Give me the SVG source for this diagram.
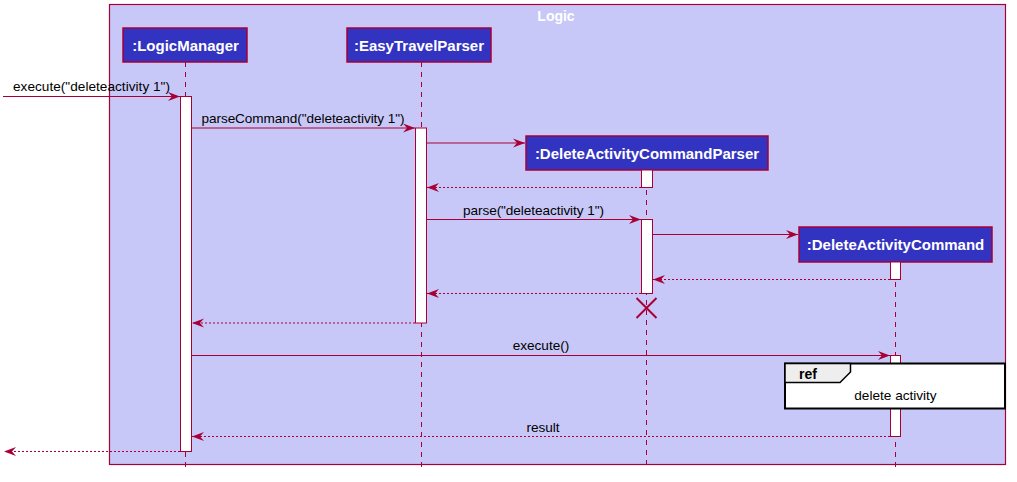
<svg xmlns="http://www.w3.org/2000/svg" width="1017" height="482" viewBox="0 0 1017 482">
<style>
.life{stroke:#A80036;stroke-width:1;stroke-dasharray:5,5;fill:none}
.part rect{fill:#3333C1;stroke:#A80036;stroke-width:1.5}
.part text{fill:#FFFFFF;font-family:"Liberation Sans",Arial,sans-serif;font-weight:bold;font-size:15px;text-anchor:middle}
.act{fill:#FFFFFF;stroke:#A80036;stroke-width:1}
.msg{stroke:#A80036;stroke-width:1;fill:none}
.ret{stroke:#A80036;stroke-width:1;fill:none;stroke-dasharray:2,2}
.lbl{font-family:"Liberation Sans",Arial,sans-serif;font-size:13.6px;fill:#000000}
</style>
<defs>
<marker id="ah" markerWidth="13" markerHeight="10" refX="12" refY="5" orient="auto" markerUnits="userSpaceOnUse">
<polygon points="12,5 0,0.5 4,5 0,9.5" fill="#A80036"/>
</marker>
</defs>
<g id="frame-logic">
<rect x="109.5" y="4.5" width="896" height="460" fill="#C8C8F8" stroke="#A80036" stroke-width="1.2"/>
<text x="556" y="21" text-anchor="middle" font-family="Liberation Sans,Arial,sans-serif" font-weight="bold" font-size="14" fill="#FFFFFF">Logic</text>
</g>
<g id="lifelines">
<line class="life" x1="185.5" y1="62" x2="185.5" y2="467"/>
<line class="life" x1="421.5" y1="62" x2="421.5" y2="467"/>
<line class="life" x1="646.5" y1="170" x2="646.5" y2="467"/>
<line class="life" x1="895.5" y1="262" x2="895.5" y2="467"/>
</g>
<g id="LogicManager" class="part">
<rect x="123" y="28" width="124" height="34"/>
<text x="185.5" y="50.5">:LogicManager</text>
</g>
<g id="EasyTravelParser" class="part">
<rect x="347" y="28" width="144" height="34"/>
<text x="419" y="50.5">:EasyTravelParser</text>
</g>
<g id="DeleteActivityCommandParser" class="part">
<rect x="526" y="136" width="242" height="34"/>
<text x="647" y="158.5">:DeleteActivityCommandParser</text>
</g>
<g id="DeleteActivityCommand" class="part">
<rect x="799" y="227" width="193" height="35"/>
<text x="895.5" y="249.5">:DeleteActivityCommand</text>
</g>
<g id="activations">
<rect class="act" x="180.5" y="96.5" width="11" height="355"/>
<rect class="act" x="415.5" y="128" width="11" height="195"/>
<rect class="act" x="641.5" y="170" width="11" height="17.5"/>
<rect class="act" x="641.5" y="219.5" width="11" height="74"/>
<rect class="act" x="890.5" y="262" width="10" height="17.5"/>
<rect class="act" x="890.5" y="355.5" width="10" height="81"/>
</g>
<g id="connectors">
<line class="msg" x1="3" y1="96.5" x2="180" y2="96.5" marker-end="url(#ah)"/>
<text class="lbl" x="13" y="91" textLength="157" lengthAdjust="spacing">execute("deleteactivity 1")</text>
<line class="msg" x1="191.5" y1="128" x2="415" y2="128" marker-end="url(#ah)"/>
<text class="lbl" x="201.5" y="123" textLength="203" lengthAdjust="spacing">parseCommand("deleteactivity 1")</text>
<line class="msg" x1="426.5" y1="143" x2="525" y2="143" marker-end="url(#ah)"/>
<line class="ret" x1="641" y1="187.5" x2="427" y2="187.5" marker-end="url(#ah)"/>
<line class="msg" x1="426.5" y1="219.5" x2="641" y2="219.5" marker-end="url(#ah)"/>
<text class="lbl" x="463" y="214.5" textLength="141" lengthAdjust="spacing">parse("deleteactivity 1")</text>
<line class="msg" x1="652.5" y1="234.5" x2="798" y2="234.5" marker-end="url(#ah)"/>
<line class="ret" x1="890" y1="279.5" x2="653" y2="279.5" marker-end="url(#ah)"/>
<line class="ret" x1="641" y1="293.5" x2="427" y2="293.5" marker-end="url(#ah)"/>
<line class="ret" x1="415" y1="323" x2="192" y2="323" marker-end="url(#ah)"/>
<line class="msg" x1="191.5" y1="355.5" x2="890" y2="355.5" marker-end="url(#ah)"/>
<text class="lbl" x="541" y="350" text-anchor="middle">execute()</text>
<line class="ret" x1="890" y1="436.5" x2="192" y2="436.5" marker-end="url(#ah)"/>
<text class="lbl" x="543" y="431.5" text-anchor="middle">result</text>
<line class="ret" x1="180" y1="451.5" x2="4" y2="451.5" marker-end="url(#ah)"/>
</g>
<g id="destroy">
<line x1="636.5" y1="298" x2="656.5" y2="318" stroke="#A80036" stroke-width="2"/>
<line x1="656.5" y1="298" x2="636.5" y2="318" stroke="#A80036" stroke-width="2"/>
</g>
<g id="ref-delete-activity">
<rect x="785" y="363.5" width="220" height="45" fill="#FFFFFF" stroke="#000000" stroke-width="2"/>
<path d="M785,363.5 L850.5,363.5 L850.5,372 L840,382.5 L785,382.5 Z" fill="#EEEEEE" stroke="#000000" stroke-width="1.5"/>
<text x="799" y="379" font-family="Liberation Sans,Arial,sans-serif" font-weight="bold" font-size="14" fill="#000000">ref</text>
<text class="lbl" x="895.5" y="400" text-anchor="middle">delete activity</text>
</g>
</svg>
